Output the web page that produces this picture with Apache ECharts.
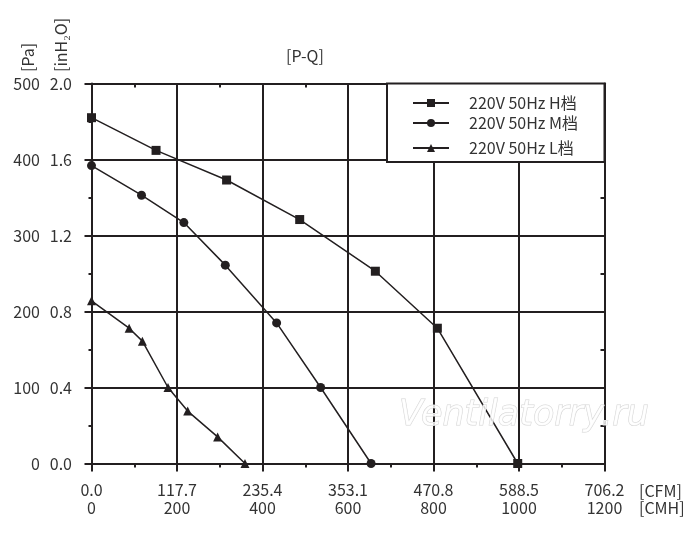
<!DOCTYPE html>
<html>
<head>
<meta charset="utf-8">
<script src="https://cdn.jsdelivr.net/npm/echarts@6/dist/echarts.min.js"></script>
<style>
html,body{margin:0;padding:0;background:#fff;}
#chart{width:700px;height:540px;}
</style>
</head>
<body>
<div id="chart"></div>
<script>
// ---- data ----
var seriesNames = ['220V 50Hz H档', '220V 50Hz M档', '220V 50Hz L档'];
var cmhH = [0, 151, 316, 487, 664, 809, 997];
var paH  = [455, 412, 373, 321, 253, 178, 0];
var cmhM = [0, 117, 216, 313, 433, 536, 654];
var paM  = [392, 353, 317, 261, 185, 100, 0];
var cmhL = [0, 88, 119, 179, 225, 295, 359];
var paL  = [214, 178, 161, 100, 69, 35, 0];
var cfmTickLabels = ['0.0', '117.7', '235.4', '353.1', '470.8', '588.5', '706.2'];
var cmhTickLabels = ['0', '200', '400', '600', '800', '1000', '1200'];
var paTickLabels = ['0', '100', '200', '300', '400', '500'];
var inh2oTickLabels = ['0.0', '0.4', '0.8', '1.2', '1.6', '2.0'];

function pairs(xs, ys) { return xs.map(function (x, i) { return [x, ys[i]]; }); }

var INK = '#231f20';
var TXT = '#333333';
var FONT = 'Noto Sans CJK SC';
var symbols = ['rect', 'circle', 'triangle'];
var dataSets = [pairs(cmhH, paH), pairs(cmhM, paM), pairs(cmhL, paL)];

var chart = echarts.init(document.getElementById('chart'));

var legendTops = [93, 113, 138];

chart.setOption({
  animation: false,
  backgroundColor: '#fff',
  grid: { left: 91.5, right: 95.5, top: 83.5, bottom: 76.5 },
  xAxis: [{
    type: 'value', position: 'bottom', min: 0, max: 1200, interval: 200,
    axisLine: { show: true, onZero: false, lineStyle: { color: INK, width: 2 } },
    axisTick: { show: true, length: 8, lineStyle: { color: INK, width: 2 } },
    minorTick: { show: true, splitNumber: 2, length: 4, lineStyle: { color: INK, width: 2 } },
    splitLine: { show: true, lineStyle: { color: INK, width: 2 } },
    axisLabel: {
      margin: 18, color: TXT, fontFamily: FONT, fontSize: 16, lineHeight: 17.6,
      formatter: function (v, i) {
        var k = cmhTickLabels.indexOf(String(v));
        return cfmTickLabels[k] + '\n' + cmhTickLabels[k];
      }
    }
  }, {
    type: 'value', position: 'top', min: 0, max: 1200, interval: 100,
    axisLine: { show: true, onZero: false, lineStyle: { color: INK, width: 2 } },
    axisTick: { show: true, inside: true, length: 4, lineStyle: { color: INK, width: 2 } },
    splitLine: { show: false }, axisLabel: { show: false }
  }],
  yAxis: [{
    type: 'value', position: 'left', min: 0, max: 500, interval: 100,
    axisLine: { show: true, onZero: false, lineStyle: { color: INK, width: 2 } },
    axisTick: { show: true, length: 7, lineStyle: { color: INK, width: 2 } },
    minorTick: { show: true, splitNumber: 2, length: 3, lineStyle: { color: INK, width: 2 } },
    splitLine: { show: true, lineStyle: { color: INK, width: 2 } },
    axisLabel: {
      margin: 51.5, color: TXT, fontFamily: FONT, fontSize: 16,
      formatter: function (v) { return paTickLabels[Math.round(v / 100)]; }
    }
  }, {
    type: 'value', position: 'left', offset: 0, min: 0, max: 2.0, interval: 0.4,
    axisLine: { show: false }, axisTick: { show: false }, splitLine: { show: false },
    axisLabel: {
      margin: 19.5, color: TXT, fontFamily: FONT, fontSize: 16,
      formatter: function (v) { return inh2oTickLabels[Math.round(v / 0.4)]; }
    }
  }, {
    type: 'value', position: 'right', min: 0, max: 500, interval: 50,
    axisLine: { show: true, onZero: false, lineStyle: { color: INK, width: 2 } },
    axisTick: { show: true, inside: true, length: 4, lineStyle: { color: INK, width: 2 } },
    splitLine: { show: false }, axisLabel: { show: false }
  }],
  legend: seriesNames.map(function (n, i) {
    return {
      data: [n], orient: 'vertical', left: 412, top: legendTops[i], padding: 0,
      itemWidth: 36, itemHeight: 10, selectedMode: false,
      textStyle: { color: TXT, fontFamily: FONT, fontSize: 16, lineHeight: 20, padding: [0, 0, 0, 15] }
    };
  }),
  graphic: [
    { type: 'rect', z: 3, shape: { x: 387, y: 83.5, width: 217.5, height: 78.5 },
      style: { fill: '#fff', stroke: INK, lineWidth: 2 } },
    { type: 'text', x: 305, y: 56, style: { text: '[P-Q]', fill: TXT, font: '16px "Noto Sans CJK SC"', textAlign: 'center', textVerticalAlign: 'middle' } },
    { type: 'text', x: 27.5, y: 72, rotation: Math.PI / 2, style: { text: '[Pa]', fill: TXT, font: '16px "Noto Sans CJK SC"', textAlign: 'left', textVerticalAlign: 'middle' } },
    { type: 'text', x: 60.5, y: 72, rotation: Math.PI / 2, style: { text: '[inH₂O]', fill: TXT, font: '16px "Noto Sans CJK SC"', textAlign: 'left', textVerticalAlign: 'middle' } },
    { type: 'text', x: 639, y: 490.7, style: { text: '[CFM]', fill: TXT, font: '16px "Noto Sans CJK SC"', textAlign: 'left', textVerticalAlign: 'middle' } },
    { type: 'text', x: 639, y: 508.3, style: { text: '[CMH]', fill: TXT, font: '16px "Noto Sans CJK SC"', textAlign: 'left', textVerticalAlign: 'middle' } },
    { type: 'text', z: 20, x: 399, y: 433, style: { text: 'Ventilatorry.ru', fill: 'rgba(255,255,255,0.8)', stroke: '#d4d4d4', lineWidth: 1, font: 'italic 35px "DejaVu Sans"', textAlign: 'left', textVerticalAlign: 'bottom' } }
  ],
  series: seriesNames.map(function (n, i) {
    return {
      name: n, type: 'line', xAxisIndex: 0, yAxisIndex: 0,
      data: dataSets[i], symbol: symbols[i], symbolSize: 9, showSymbol: true,
      lineStyle: { color: INK, width: 1.5 },
      itemStyle: { color: INK, borderColor: INK, borderWidth: 0 },
      z: 5
    };
  })
});
</script>
</body>
</html>
